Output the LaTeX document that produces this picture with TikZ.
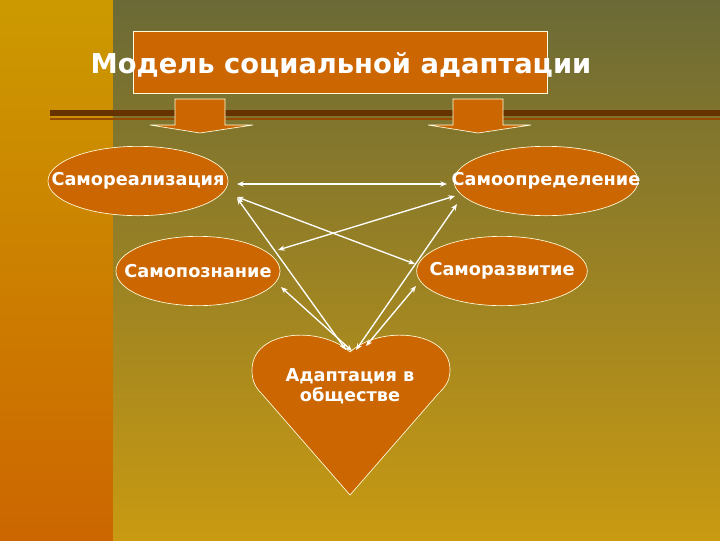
\documentclass[tikz,border=0pt]{standalone}
\usepackage{fontspec}
\setmainfont{DejaVu Sans}
\usetikzlibrary{shapes.geometric,arrows.meta}
\definecolor{org}{HTML}{CC6600}
\definecolor{goldA}{HTML}{CC9A00}
\definecolor{oliveT}{HTML}{6B6A36}
\definecolor{goldB}{HTML}{C99A12}
\definecolor{brn}{HTML}{663300}
\tikzset{
 ell/.style={ellipse,draw=white!85!yellow,line width=0.5pt,fill=org,inner sep=0pt},
 lbl/.style={text=white,font=\bfseries\fontsize{13.3}{15}\selectfont,inner sep=0pt},
 blk/.style={fill=org,draw=white!85!yellow,line width=0.5pt},
 con/.style={draw=white,line width=1pt,{Stealth[length=5pt,width=4pt]}-{Stealth[length=5pt,width=4pt]}}
}
\begin{document}
\begin{tikzpicture}[x=0.75pt,y=-0.75pt]
\useasboundingbox (0,0) rectangle (720,540);
\shade[top color=goldA,bottom color=org] (0,0) rectangle (113,540);
\shade[top color=oliveT,bottom color=goldB] (113,0) rectangle (720,540);
\fill[brn] (50,110) rectangle (720,116);
\fill[brn!70!orange] (50,118) rectangle (720,120);
\node[blk,minimum width=310.5pt,minimum height=46.5pt] (tb) at (340,62) {};
\node[text=white,font=\bfseries\fontsize{20.5}{23}\selectfont] (title) at (341,65) {Модель социальной адаптации};
\path[blk] (175,99) -- (225,99) -- (225,125) -- (253,125) -- (200,133) -- (150,125) -- (175,125) -- cycle;
\path[blk] (453,99) -- (503,99) -- (503,125) -- (531,125) -- (478,133) -- (428,125) -- (453,125) -- cycle;
\node[ell,minimum width=135pt,minimum height=52pt] (sr) at (138,181) {};
\node[ell,minimum width=138pt,minimum height=52pt] (so) at (546,181) {};
\node[ell,minimum width=123pt,minimum height=52pt] (sp) at (198,271) {};
\node[ell,minimum width=128pt,minimum height=52pt] (sv) at (502,271) {};
\node[lbl] (srt) at (sr) {Самореализация};
\node[lbl] (sot) at (so) {Самоопределение};
\node[lbl] (spt) at (sp) {Самопознание};
\node[lbl] (svt) at (sv) {Саморазвитие};
\path[blk] (350,352) .. controls (320,325) and (252,330) .. (252,370) .. controls (252,382) and (256,388) .. (262,394) -- (350,495) -- (438,394) .. controls (444,388) and (450,382) .. (450,370) .. controls (450,330) and (380,325) .. (350,352) -- cycle;
\node[text=white,font=\bfseries\fontsize{13.3}{15}\selectfont,align=center] (ad) at (350,386) {Адаптация в\\ обществе};
\coordinate (h1) at (346,350); \coordinate (h2) at (352,351); \coordinate (h3) at (356,350); \coordinate (h4) at (366,346);
\draw[con] (237,184) -- (447,184);
\draw[con] (237,197) -- (415,264);
\draw[con] (455,196) -- (278,250);
\draw[con] (237,198) -- (h1);
\draw[con] (457,204) -- (h3);
\draw[con] (281,287) -- (h2);
\draw[con] (416,286) -- (h4);
\end{tikzpicture}
\end{document}
